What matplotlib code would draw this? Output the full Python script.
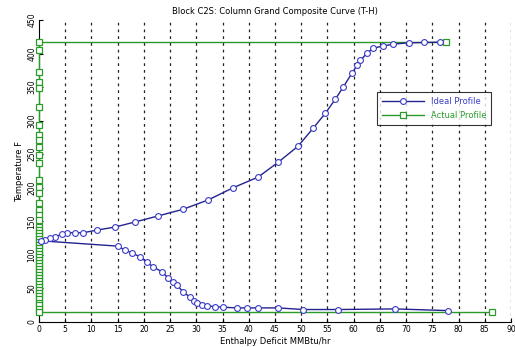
import matplotlib
matplotlib.use("Agg")
import matplotlib.pyplot as plt

# Ideal profile (blue), ordered from top right down to pinch, then lower branch
ideal_x = [76.5, 73.5, 70.5, 67.5, 65.5, 63.7, 62.6, 61.3, 60.7, 59.7, 58.0, 56.5,
           54.6, 52.3, 49.4, 45.6, 41.8, 37.0, 32.3, 27.5, 22.7, 18.3, 14.5, 11.1,
           8.4, 6.9, 5.3, 4.4, 3.1, 2.1, 1.1, 0.3,
           15.1, 16.4, 17.7, 19.3, 20.6, 21.8, 23.5, 24.6, 25.5, 26.3, 27.5, 28.8,
           29.5, 30.2, 31.0, 32.1, 33.5, 35.1, 37.8, 39.7, 41.8, 45.6, 50.4, 57.1,
           67.9, 77.9]
ideal_y = [417, 416.5, 416, 414, 411, 408, 401, 390, 383, 371, 350, 332,
           311, 289, 262, 238, 216, 200, 182, 168, 158, 149, 141.5, 137,
           133, 133, 133, 131, 127, 125, 122, 121,
           113, 107, 103, 97, 89, 82, 74.5, 65.6, 60, 55, 44.7, 37,
           32, 28, 25.5, 24, 23, 22, 21, 21, 21, 21, 18.6, 18.6,
           19.5, 17]

# Actual profile (green)
actual_y_stages = [405, 372, 358, 349, 320, 294, 279, 271, 261, 249, 237, 212,
                   201, 192, 177, 167, 159, 152, 141, 137, 133, 128, 124, 119,
                   115, 110, 106, 101, 97, 92, 88, 83, 79, 74, 70, 65, 61, 56,
                   52, 47, 43, 38, 34, 29, 25, 20]
actual_x = [77.7, 0] + [0] * len(actual_y_stages) + [0, 86.4]
actual_y = [417, 417] + actual_y_stages + [15, 15]

x_ticks = list(range(0, 95, 5))
y_ticks = list(range(0, 500, 50))

title = "Block C2S: Column Grand Composite Curve (T-H)"
xlabel = "Enthalpy Deficit MMBtu/hr"
ylabel = "Temperature F"

blue = "#23238f"
blue_m = "#3b3bc8"
green = "#2a9a2a"

fig = plt.figure(figsize=(5.15, 3.47), dpi=100)
ax = fig.add_axes([39 / 515, 1 - 322 / 347, 472 / 515, 302 / 347])

for xt in x_ticks[1:]:
    ax.axvline(xt, color="#222222", lw=0.9, ls=(0, (2.2, 3.2)), zorder=1)

ax.plot(actual_x, actual_y, color=green, lw=1.0, marker="s", ms=3.8,
        mfc="white", mec=green, mew=0.9, label="Actual Profile", zorder=3,
        clip_on=False)
ax.plot(ideal_x, ideal_y, color=blue, lw=1.0, marker="o", ms=4.2,
        mfc="white", mec=blue_m, mew=0.8, label="Ideal Profile", zorder=4,
        clip_on=False)

ax.set_xlim(0, 90)
ax.set_ylim(0, 450)
ax.set_xticks(x_ticks)
ax.set_yticks(y_ticks)
ax.tick_params(axis="both", direction="in", labelsize=5.5, length=3, pad=2)
for lab in ax.get_yticklabels():
    lab.set_rotation(90)
    lab.set_va("center")
ax.spines["top"].set_visible(False)
ax.spines["right"].set_visible(False)

ax.set_title(title, fontsize=6, pad=4)
ax.set_xlabel(xlabel, fontsize=6, labelpad=2)
ax.set_ylabel(ylabel, fontsize=6, labelpad=2)

handles, labels = ax.get_legend_handles_labels()
leg = ax.legend(handles[::-1], labels[::-1], loc="upper left",
                bbox_to_anchor=(0.708, 0.775), fontsize=6, frameon=True,
                fancybox=False, edgecolor="black", handlelength=5,
                borderpad=0.6, labelspacing=0.6)
leg.get_frame().set_linewidth(0.8)
leg.get_texts()[0].set_color(blue_m)
leg.get_texts()[1].set_color(green)

fig.savefig("out.png", dpi=100)
